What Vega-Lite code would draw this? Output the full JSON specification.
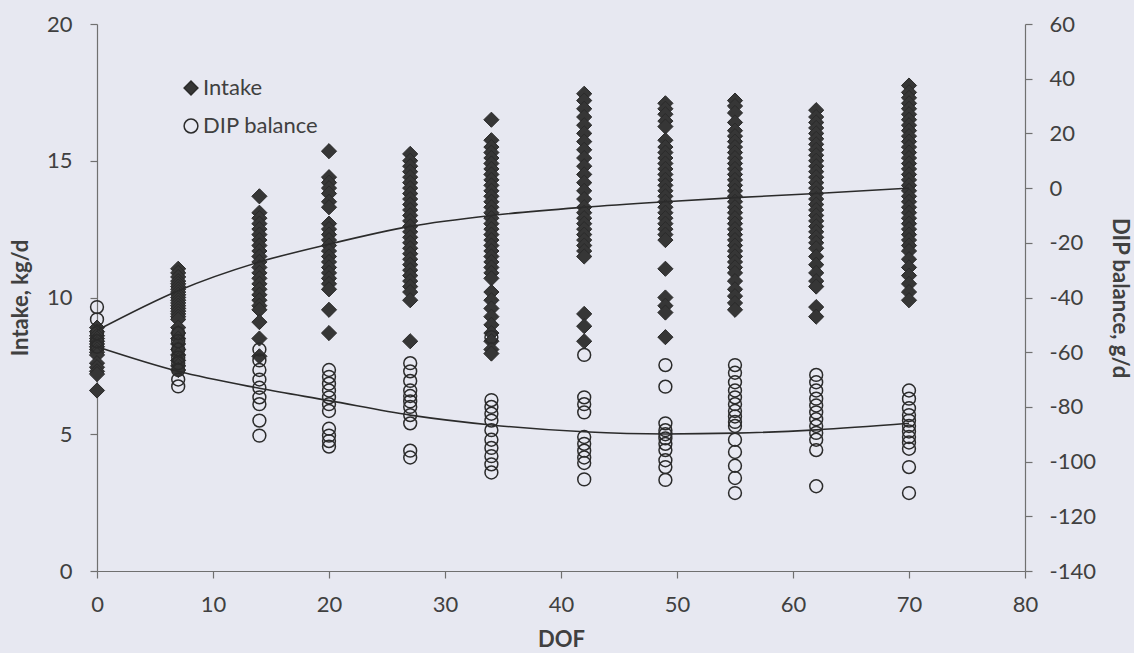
{
  "$schema": "https://vega.github.io/schema/vega-lite/v6.json",
  "width": 928,
  "height": 547,
  "autosize": {"type": "none"},
  "padding": {"left": 97, "top": 24, "right": 109, "bottom": 82},
  "background": "#e7e8f1",
  "config": {
    "view": {"stroke": null},
    "font": "Lato",
    "axis": {
      "grid": false,
      "labelFlush": false,
      "domainColor": "#707070",
      "domainWidth": 1.2,
      "tickColor": "#707070",
      "tickWidth": 1.2,
      "tickSize": 7,
      "labelFont": "Lato",
      "labelFontSize": 22,
      "labelColor": "#404040",
      "titleFont": "Lato",
      "titleFontSize": 22,
      "titleFontWeight": "bold",
      "titleColor": "#404040"
    },
    "legend": {
      "labelFont": "Lato",
      "labelFontSize": 22,
      "labelColor": "#404040",
      "symbolStrokeWidth": 1.5,
      "symbolSize": 190
    }
  },
  "datasets": {
    "intake": [
      {"dof": 0, "v": 8.9}, {"dof": 0, "v": 8.75}, {"dof": 0, "v": 8.6}, {"dof": 0, "v": 8.5}, {"dof": 0, "v": 8.4}, {"dof": 0, "v": 8.3}, {"dof": 0, "v": 8.2}, {"dof": 0, "v": 8.1}, {"dof": 0, "v": 8.0}, {"dof": 0, "v": 7.9}, {"dof": 0, "v": 7.6}, {"dof": 0, "v": 7.45}, {"dof": 0, "v": 7.3}, {"dof": 0, "v": 7.2}, {"dof": 0, "v": 6.6},
      {"dof": 7, "v": 11.05}, {"dof": 7, "v": 10.9}, {"dof": 7, "v": 10.75}, {"dof": 7, "v": 10.6}, {"dof": 7, "v": 10.5}, {"dof": 7, "v": 10.4}, {"dof": 7, "v": 10.3}, {"dof": 7, "v": 10.2}, {"dof": 7, "v": 10.1}, {"dof": 7, "v": 10.0}, {"dof": 7, "v": 9.9}, {"dof": 7, "v": 9.8}, {"dof": 7, "v": 9.7}, {"dof": 7, "v": 9.6}, {"dof": 7, "v": 9.5}, {"dof": 7, "v": 9.4}, {"dof": 7, "v": 9.3}, {"dof": 7, "v": 9.2}, {"dof": 7, "v": 8.9}, {"dof": 7, "v": 8.7}, {"dof": 7, "v": 8.5}, {"dof": 7, "v": 8.3}, {"dof": 7, "v": 8.1}, {"dof": 7, "v": 7.9}, {"dof": 7, "v": 7.7}, {"dof": 7, "v": 7.5}, {"dof": 7, "v": 7.35},
      {"dof": 14, "v": 13.7}, {"dof": 14, "v": 13.1}, {"dof": 14, "v": 12.9}, {"dof": 14, "v": 12.7}, {"dof": 14, "v": 12.5}, {"dof": 14, "v": 12.3}, {"dof": 14, "v": 12.1}, {"dof": 14, "v": 11.9}, {"dof": 14, "v": 11.7}, {"dof": 14, "v": 11.5}, {"dof": 14, "v": 11.3}, {"dof": 14, "v": 11.1}, {"dof": 14, "v": 10.9}, {"dof": 14, "v": 10.7}, {"dof": 14, "v": 10.5}, {"dof": 14, "v": 10.3}, {"dof": 14, "v": 10.1}, {"dof": 14, "v": 9.9}, {"dof": 14, "v": 9.7}, {"dof": 14, "v": 9.55}, {"dof": 14, "v": 9.1}, {"dof": 14, "v": 8.5}, {"dof": 14, "v": 7.85},
      {"dof": 20, "v": 15.35}, {"dof": 20, "v": 14.4}, {"dof": 20, "v": 14.2}, {"dof": 20, "v": 14.0}, {"dof": 20, "v": 13.8}, {"dof": 20, "v": 13.5}, {"dof": 20, "v": 13.3}, {"dof": 20, "v": 12.7}, {"dof": 20, "v": 12.5}, {"dof": 20, "v": 12.3}, {"dof": 20, "v": 12.1}, {"dof": 20, "v": 11.9}, {"dof": 20, "v": 11.7}, {"dof": 20, "v": 11.5}, {"dof": 20, "v": 11.3}, {"dof": 20, "v": 11.1}, {"dof": 20, "v": 10.9}, {"dof": 20, "v": 10.7}, {"dof": 20, "v": 10.5}, {"dof": 20, "v": 10.3}, {"dof": 20, "v": 9.55}, {"dof": 20, "v": 8.7},
      {"dof": 27, "v": 15.25}, {"dof": 27, "v": 15.0}, {"dof": 27, "v": 14.8}, {"dof": 27, "v": 14.6}, {"dof": 27, "v": 14.4}, {"dof": 27, "v": 14.2}, {"dof": 27, "v": 14.0}, {"dof": 27, "v": 13.8}, {"dof": 27, "v": 13.6}, {"dof": 27, "v": 13.4}, {"dof": 27, "v": 13.2}, {"dof": 27, "v": 13.0}, {"dof": 27, "v": 12.8}, {"dof": 27, "v": 12.6}, {"dof": 27, "v": 12.4}, {"dof": 27, "v": 12.2}, {"dof": 27, "v": 12.0}, {"dof": 27, "v": 11.8}, {"dof": 27, "v": 11.6}, {"dof": 27, "v": 11.4}, {"dof": 27, "v": 11.2}, {"dof": 27, "v": 11.0}, {"dof": 27, "v": 10.8}, {"dof": 27, "v": 10.6}, {"dof": 27, "v": 10.4}, {"dof": 27, "v": 10.2}, {"dof": 27, "v": 9.9}, {"dof": 27, "v": 8.4},
      {"dof": 34, "v": 16.5}, {"dof": 34, "v": 15.75}, {"dof": 34, "v": 15.5}, {"dof": 34, "v": 15.3}, {"dof": 34, "v": 15.1}, {"dof": 34, "v": 14.9}, {"dof": 34, "v": 14.7}, {"dof": 34, "v": 14.5}, {"dof": 34, "v": 14.3}, {"dof": 34, "v": 14.1}, {"dof": 34, "v": 13.9}, {"dof": 34, "v": 13.7}, {"dof": 34, "v": 13.5}, {"dof": 34, "v": 13.3}, {"dof": 34, "v": 13.1}, {"dof": 34, "v": 12.9}, {"dof": 34, "v": 12.7}, {"dof": 34, "v": 12.5}, {"dof": 34, "v": 12.3}, {"dof": 34, "v": 12.1}, {"dof": 34, "v": 11.9}, {"dof": 34, "v": 11.7}, {"dof": 34, "v": 11.5}, {"dof": 34, "v": 11.3}, {"dof": 34, "v": 11.1}, {"dof": 34, "v": 10.9}, {"dof": 34, "v": 10.7}, {"dof": 34, "v": 10.2}, {"dof": 34, "v": 9.9}, {"dof": 34, "v": 9.6}, {"dof": 34, "v": 9.3}, {"dof": 34, "v": 9.0}, {"dof": 34, "v": 8.7}, {"dof": 34, "v": 8.4}, {"dof": 34, "v": 8.1}, {"dof": 34, "v": 7.95},
      {"dof": 42, "v": 17.45}, {"dof": 42, "v": 17.2}, {"dof": 42, "v": 16.9}, {"dof": 42, "v": 16.6}, {"dof": 42, "v": 16.3}, {"dof": 42, "v": 16.0}, {"dof": 42, "v": 15.7}, {"dof": 42, "v": 15.4}, {"dof": 42, "v": 15.1}, {"dof": 42, "v": 14.8}, {"dof": 42, "v": 14.5}, {"dof": 42, "v": 14.2}, {"dof": 42, "v": 13.9}, {"dof": 42, "v": 13.6}, {"dof": 42, "v": 13.3}, {"dof": 42, "v": 13.1}, {"dof": 42, "v": 12.9}, {"dof": 42, "v": 12.7}, {"dof": 42, "v": 12.5}, {"dof": 42, "v": 12.3}, {"dof": 42, "v": 12.1}, {"dof": 42, "v": 11.9}, {"dof": 42, "v": 11.7}, {"dof": 42, "v": 11.5}, {"dof": 42, "v": 9.4}, {"dof": 42, "v": 8.95}, {"dof": 42, "v": 8.4},
      {"dof": 49, "v": 17.1}, {"dof": 49, "v": 16.9}, {"dof": 49, "v": 16.7}, {"dof": 49, "v": 16.45}, {"dof": 49, "v": 16.25}, {"dof": 49, "v": 15.75}, {"dof": 49, "v": 15.5}, {"dof": 49, "v": 15.3}, {"dof": 49, "v": 15.1}, {"dof": 49, "v": 14.9}, {"dof": 49, "v": 14.7}, {"dof": 49, "v": 14.5}, {"dof": 49, "v": 14.3}, {"dof": 49, "v": 14.1}, {"dof": 49, "v": 13.9}, {"dof": 49, "v": 13.7}, {"dof": 49, "v": 13.5}, {"dof": 49, "v": 13.3}, {"dof": 49, "v": 13.1}, {"dof": 49, "v": 12.9}, {"dof": 49, "v": 12.7}, {"dof": 49, "v": 12.5}, {"dof": 49, "v": 12.3}, {"dof": 49, "v": 12.1}, {"dof": 49, "v": 11.05}, {"dof": 49, "v": 10.0}, {"dof": 49, "v": 9.7}, {"dof": 49, "v": 9.45}, {"dof": 49, "v": 8.55},
      {"dof": 55, "v": 17.2}, {"dof": 55, "v": 17.0}, {"dof": 55, "v": 16.75}, {"dof": 55, "v": 16.4}, {"dof": 55, "v": 16.1}, {"dof": 55, "v": 15.9}, {"dof": 55, "v": 15.7}, {"dof": 55, "v": 15.5}, {"dof": 55, "v": 15.3}, {"dof": 55, "v": 15.1}, {"dof": 55, "v": 14.9}, {"dof": 55, "v": 14.7}, {"dof": 55, "v": 14.5}, {"dof": 55, "v": 14.3}, {"dof": 55, "v": 14.1}, {"dof": 55, "v": 13.9}, {"dof": 55, "v": 13.7}, {"dof": 55, "v": 13.5}, {"dof": 55, "v": 13.3}, {"dof": 55, "v": 13.1}, {"dof": 55, "v": 12.9}, {"dof": 55, "v": 12.7}, {"dof": 55, "v": 12.5}, {"dof": 55, "v": 12.3}, {"dof": 55, "v": 12.1}, {"dof": 55, "v": 11.9}, {"dof": 55, "v": 11.7}, {"dof": 55, "v": 11.5}, {"dof": 55, "v": 11.3}, {"dof": 55, "v": 11.1}, {"dof": 55, "v": 10.9}, {"dof": 55, "v": 10.6}, {"dof": 55, "v": 10.3}, {"dof": 55, "v": 10.05}, {"dof": 55, "v": 9.8}, {"dof": 55, "v": 9.55},
      {"dof": 62, "v": 16.85}, {"dof": 62, "v": 16.6}, {"dof": 62, "v": 16.4}, {"dof": 62, "v": 16.2}, {"dof": 62, "v": 16.0}, {"dof": 62, "v": 15.8}, {"dof": 62, "v": 15.6}, {"dof": 62, "v": 15.4}, {"dof": 62, "v": 15.2}, {"dof": 62, "v": 15.0}, {"dof": 62, "v": 14.8}, {"dof": 62, "v": 14.6}, {"dof": 62, "v": 14.4}, {"dof": 62, "v": 14.2}, {"dof": 62, "v": 14.0}, {"dof": 62, "v": 13.8}, {"dof": 62, "v": 13.6}, {"dof": 62, "v": 13.4}, {"dof": 62, "v": 13.2}, {"dof": 62, "v": 13.0}, {"dof": 62, "v": 12.8}, {"dof": 62, "v": 12.6}, {"dof": 62, "v": 12.4}, {"dof": 62, "v": 12.2}, {"dof": 62, "v": 12.0}, {"dof": 62, "v": 11.8}, {"dof": 62, "v": 11.5}, {"dof": 62, "v": 11.2}, {"dof": 62, "v": 10.9}, {"dof": 62, "v": 10.6}, {"dof": 62, "v": 10.4}, {"dof": 62, "v": 9.65}, {"dof": 62, "v": 9.3},
      {"dof": 70, "v": 17.75}, {"dof": 70, "v": 17.5}, {"dof": 70, "v": 17.3}, {"dof": 70, "v": 17.1}, {"dof": 70, "v": 16.9}, {"dof": 70, "v": 16.7}, {"dof": 70, "v": 16.5}, {"dof": 70, "v": 16.3}, {"dof": 70, "v": 16.1}, {"dof": 70, "v": 15.9}, {"dof": 70, "v": 15.7}, {"dof": 70, "v": 15.5}, {"dof": 70, "v": 15.3}, {"dof": 70, "v": 15.1}, {"dof": 70, "v": 14.9}, {"dof": 70, "v": 14.7}, {"dof": 70, "v": 14.5}, {"dof": 70, "v": 14.3}, {"dof": 70, "v": 14.1}, {"dof": 70, "v": 13.9}, {"dof": 70, "v": 13.7}, {"dof": 70, "v": 13.5}, {"dof": 70, "v": 13.3}, {"dof": 70, "v": 13.1}, {"dof": 70, "v": 12.9}, {"dof": 70, "v": 12.7}, {"dof": 70, "v": 12.5}, {"dof": 70, "v": 12.3}, {"dof": 70, "v": 12.1}, {"dof": 70, "v": 11.9}, {"dof": 70, "v": 11.7}, {"dof": 70, "v": 11.4}, {"dof": 70, "v": 11.1}, {"dof": 70, "v": 10.8}, {"dof": 70, "v": 10.5}, {"dof": 70, "v": 10.2}, {"dof": 70, "v": 9.9}
    ],
    "dip": [
      {"dof": 0, "v": -43.5}, {"dof": 0, "v": -48}, {"dof": 0, "v": -53}, {"dof": 0, "v": -56}, {"dof": 0, "v": -58},
      {"dof": 7, "v": -53}, {"dof": 7, "v": -56}, {"dof": 7, "v": -59}, {"dof": 7, "v": -62}, {"dof": 7, "v": -64}, {"dof": 7, "v": -66.5}, {"dof": 7, "v": -70}, {"dof": 7, "v": -72.5},
      {"dof": 14, "v": -59}, {"dof": 14, "v": -63}, {"dof": 14, "v": -66.5}, {"dof": 14, "v": -70}, {"dof": 14, "v": -73}, {"dof": 14, "v": -76.5}, {"dof": 14, "v": -79}, {"dof": 14, "v": -85}, {"dof": 14, "v": -90.5},
      {"dof": 20, "v": -66.5}, {"dof": 20, "v": -69}, {"dof": 20, "v": -71.5}, {"dof": 20, "v": -74}, {"dof": 20, "v": -76.5}, {"dof": 20, "v": -79}, {"dof": 20, "v": -81.5}, {"dof": 20, "v": -88}, {"dof": 20, "v": -90.5}, {"dof": 20, "v": -92.5}, {"dof": 20, "v": -94.5},
      {"dof": 27, "v": -64}, {"dof": 27, "v": -67}, {"dof": 27, "v": -70.5}, {"dof": 27, "v": -74}, {"dof": 27, "v": -76}, {"dof": 27, "v": -78}, {"dof": 27, "v": -80}, {"dof": 27, "v": -83}, {"dof": 27, "v": -86}, {"dof": 27, "v": -96}, {"dof": 27, "v": -98.5},
      {"dof": 34, "v": -54.5}, {"dof": 34, "v": -77.5}, {"dof": 34, "v": -80}, {"dof": 34, "v": -82.5}, {"dof": 34, "v": -85}, {"dof": 34, "v": -88.5}, {"dof": 34, "v": -92}, {"dof": 34, "v": -95}, {"dof": 34, "v": -98}, {"dof": 34, "v": -101}, {"dof": 34, "v": -104},
      {"dof": 42, "v": -61}, {"dof": 42, "v": -76.5}, {"dof": 42, "v": -79}, {"dof": 42, "v": -82}, {"dof": 42, "v": -91}, {"dof": 42, "v": -93.5}, {"dof": 42, "v": -96}, {"dof": 42, "v": -98.5}, {"dof": 42, "v": -100.5}, {"dof": 42, "v": -106.5},
      {"dof": 49, "v": -64.7}, {"dof": 49, "v": -72.6}, {"dof": 49, "v": -86}, {"dof": 49, "v": -88.5}, {"dof": 49, "v": -90}, {"dof": 49, "v": -91.5}, {"dof": 49, "v": -93.5}, {"dof": 49, "v": -95.8}, {"dof": 49, "v": -99.5}, {"dof": 49, "v": -102}, {"dof": 49, "v": -106.7},
      {"dof": 55, "v": -64.7}, {"dof": 55, "v": -67.5}, {"dof": 55, "v": -71}, {"dof": 55, "v": -74}, {"dof": 55, "v": -76.5}, {"dof": 55, "v": -79}, {"dof": 55, "v": -81.5}, {"dof": 55, "v": -83.5}, {"dof": 55, "v": -85.5}, {"dof": 55, "v": -87}, {"dof": 55, "v": -92}, {"dof": 55, "v": -96.5}, {"dof": 55, "v": -101.5}, {"dof": 55, "v": -106}, {"dof": 55, "v": -111.5},
      {"dof": 62, "v": -68.3}, {"dof": 62, "v": -71}, {"dof": 62, "v": -74}, {"dof": 62, "v": -77}, {"dof": 62, "v": -79.5}, {"dof": 62, "v": -82}, {"dof": 62, "v": -84.5}, {"dof": 62, "v": -87}, {"dof": 62, "v": -89.5}, {"dof": 62, "v": -92}, {"dof": 62, "v": -95.8}, {"dof": 62, "v": -109},
      {"dof": 70, "v": -74}, {"dof": 70, "v": -77}, {"dof": 70, "v": -80.5}, {"dof": 70, "v": -83}, {"dof": 70, "v": -85}, {"dof": 70, "v": -87}, {"dof": 70, "v": -89}, {"dof": 70, "v": -91}, {"dof": 70, "v": -93}, {"dof": 70, "v": -95.3}, {"dof": 70, "v": -102}, {"dof": 70, "v": -111.5}
    ],
    "fitIntake": [
      {"dof": 0, "v": 8.8}, {"dof": 7, "v": 10.25}, {"dof": 14, "v": 11.3}, {"dof": 20, "v": 11.95}, {"dof": 27, "v": 12.6}, {"dof": 34, "v": 13.0}, {"dof": 42, "v": 13.3}, {"dof": 49, "v": 13.5}, {"dof": 55, "v": 13.65}, {"dof": 62, "v": 13.8}, {"dof": 70, "v": 14.0}
    ],
    "fitDip": [
      {"dof": 0, "v": -58}, {"dof": 7, "v": -67}, {"dof": 14, "v": -73.2}, {"dof": 20, "v": -77.7}, {"dof": 27, "v": -83}, {"dof": 34, "v": -86.6}, {"dof": 42, "v": -89.1}, {"dof": 49, "v": -89.9}, {"dof": 55, "v": -89.6}, {"dof": 62, "v": -88.4}, {"dof": 70, "v": -86}
    ]
  },
  "layer": [
    {
      "layer": [
        {
          "data": {"name": "intake"},
          "mark": {"type": "point", "filled": true, "size": 230, "opacity": 1, "strokeWidth": 1},
          "encoding": {
            "x": {"field": "dof", "type": "quantitative", "scale": {"domain": [0, 80], "nice": false}, "axis": {"title": "DOF", "values": [0, 10, 20, 30, 40, 50, 60, 70, 80], "labelPadding": 16, "titlePadding": 14}},
            "y": {"field": "v", "type": "quantitative", "scale": {"domain": [0, 20], "nice": false}, "axis": {"title": "Intake, kg/d", "orient": "left", "values": [0, 5, 10, 15, 20], "labelPadding": 18, "titlePadding": 14}},
            "shape": {"datum": "Intake", "type": "nominal", "scale": {"domain": ["Intake", "DIP balance"], "range": ["diamond", "circle"]}, "legend": {"title": null, "orient": "none", "legendX": 83, "legendY": 53, "rowPadding": 16, "labelOffset": 1, "padding": 0}},
            "fill": {"datum": "Intake", "type": "nominal", "scale": {"domain": ["Intake", "DIP balance"], "range": ["#363636", "transparent"]}, "legend": {"title": null, "orient": "none", "legendX": 83, "legendY": 53, "rowPadding": 16, "labelOffset": 1, "padding": 0}},
            "stroke": {"datum": "Intake", "type": "nominal", "scale": {"domain": ["Intake", "DIP balance"], "range": ["#2b2b2b", "#2b2b2b"]}, "legend": {"title": null, "orient": "none", "legendX": 83, "legendY": 53, "rowPadding": 16, "labelOffset": 1, "padding": 0}}
          }
        },
        {
          "data": {"name": "fitIntake"},
          "mark": {"type": "line", "interpolate": "monotone", "color": "#2b2b2b", "strokeWidth": 1.6},
          "encoding": {
            "x": {"field": "dof", "type": "quantitative", "scale": {"domain": [0, 80], "nice": false}, "axis": {"title": "DOF", "values": [0, 10, 20, 30, 40, 50, 60, 70, 80], "labelPadding": 16, "titlePadding": 14}},
            "y": {"field": "v", "type": "quantitative", "scale": {"domain": [0, 20], "nice": false}, "axis": {"title": "Intake, kg/d", "orient": "left", "values": [0, 5, 10, 15, 20], "labelPadding": 18, "titlePadding": 14}}
          }
        }
      ]
    },
    {
      "layer": [
        {
          "data": {"name": "dip"},
          "mark": {"type": "point", "filled": true, "size": 165, "opacity": 1, "strokeWidth": 1.5},
          "encoding": {
            "x": {"field": "dof", "type": "quantitative", "scale": {"domain": [0, 80], "nice": false}, "axis": {"title": "DOF", "values": [0, 10, 20, 30, 40, 50, 60, 70, 80], "labelPadding": 16, "titlePadding": 14}},
            "y": {"field": "v", "type": "quantitative", "scale": {"domain": [-140, 60], "nice": false}, "axis": {"title": "DIP balance, g/d", "orient": "right", "values": [-140, -120, -100, -80, -60, -40, -20, 0, 20, 40, 60], "labelExpr": "toString(datum.value)", "labelPadding": 17, "titlePadding": 12}},
            "shape": {"datum": "DIP balance", "type": "nominal", "scale": {"domain": ["Intake", "DIP balance"], "range": ["diamond", "circle"]}, "legend": {"title": null, "orient": "none", "legendX": 83, "legendY": 53, "rowPadding": 16, "labelOffset": 1, "padding": 0}},
            "fill": {"datum": "DIP balance", "type": "nominal", "scale": {"domain": ["Intake", "DIP balance"], "range": ["#363636", "transparent"]}, "legend": {"title": null, "orient": "none", "legendX": 83, "legendY": 53, "rowPadding": 16, "labelOffset": 1, "padding": 0}},
            "stroke": {"datum": "DIP balance", "type": "nominal", "scale": {"domain": ["Intake", "DIP balance"], "range": ["#2b2b2b", "#2b2b2b"]}, "legend": {"title": null, "orient": "none", "legendX": 83, "legendY": 53, "rowPadding": 16, "labelOffset": 1, "padding": 0}}
          }
        },
        {
          "data": {"name": "fitDip"},
          "mark": {"type": "line", "interpolate": "monotone", "color": "#2b2b2b", "strokeWidth": 1.6},
          "encoding": {
            "x": {"field": "dof", "type": "quantitative", "scale": {"domain": [0, 80], "nice": false}, "axis": {"title": "DOF", "values": [0, 10, 20, 30, 40, 50, 60, 70, 80], "labelPadding": 16, "titlePadding": 14}},
            "y": {"field": "v", "type": "quantitative", "scale": {"domain": [-140, 60], "nice": false}, "axis": {"title": "DIP balance, g/d", "orient": "right", "values": [-140, -120, -100, -80, -60, -40, -20, 0, 20, 40, 60], "labelExpr": "toString(datum.value)", "labelPadding": 17, "titlePadding": 12}}
          }
        }
      ]
    }
  ],
  "resolve": {"scale": {"y": "independent"}}
}
